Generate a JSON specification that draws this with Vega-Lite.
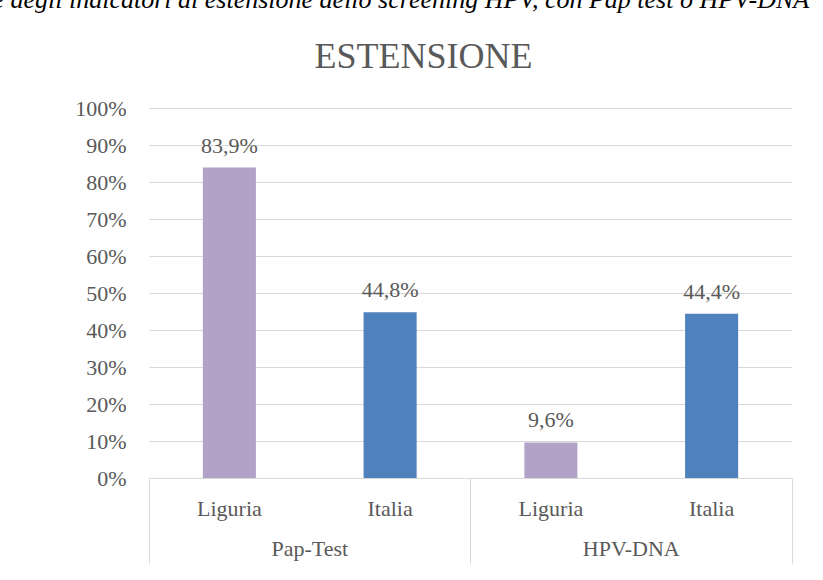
{
  "$schema": "https://vega.github.io/schema/vega-lite/v6.json",
  "autosize": "none",
  "width": 643,
  "height": 370,
  "padding": {"left": 149, "top": 108, "right": 31, "bottom": 102},
  "background": "white",
  "config": {
    "locale": {"number": {"decimal": ",", "thousands": ".", "grouping": [3], "currency": ["€", ""]}},
    "view": {"stroke": null},
    "font": "Liberation Serif, Times New Roman, serif"
  },
  "title": {
    "text": "ESTENSIONE",
    "fontSize": 36,
    "font": "Liberation Serif, Times New Roman, serif",
    "fontWeight": "normal",
    "color": "#595959",
    "anchor": "middle",
    "frame": "group",
    "baseline": "alphabetic",
    "dx": -47,
    "dy": 122
  },
  "data": {
    "values": [
      {"key": "Pap-Test|Liguria", "gruppo": "Pap-Test", "regione": "Liguria", "valore": 0.839},
      {"key": "Pap-Test|Italia", "gruppo": "Pap-Test", "regione": "Italia", "valore": 0.448},
      {"key": "HPV-DNA|Liguria", "gruppo": "HPV-DNA", "regione": "Liguria", "valore": 0.096},
      {"key": "HPV-DNA|Italia", "gruppo": "HPV-DNA", "regione": "Italia", "valore": 0.444}
    ]
  },
  "layer": [
    {
      "encoding": {
        "x": {
          "field": "key",
          "type": "nominal",
          "sort": null,
          "scale": {"type": "band", "paddingInner": 0.67, "paddingOuter": 0.335},
          "axis": {
            "title": null,
            "orient": "bottom",
            "labelExpr": "split(datum.value, '|')[1]",
            "labelFont": "Liberation Serif, Times New Roman, serif",
            "labelFontSize": 22,
            "labelColor": "#595959",
            "labelBaseline": "alphabetic",
            "labelPadding": 37,
            "labelAngle": 0,
            "ticks": false,
            "tickSize": 0,
            "domain": false
          }
        },
        "y": {
          "field": "valore",
          "type": "quantitative",
          "scale": {"domain": [0, 1]},
          "axis": {
            "values": [0, 0.1, 0.2, 0.3, 0.4, 0.5, 0.6, 0.7, 0.8, 0.9, 1],
            "tickCount": 20,
            "labelOverlap": false,
            "format": ".0%",
            "grid": true,
            "gridColor": "#d9d9d9",
            "gridWidth": 1,
            "domain": false,
            "ticks": false,
            "tickSize": 0,
            "labelPadding": 23,
            "labelFont": "Liberation Serif, Times New Roman, serif",
            "labelFontSize": 22,
            "labelColor": "#595959",
            "title": "e degli indicatori di estensione dello screening HPV, con Pap test o HPV-DNA",
            "titleAngle": 0,
            "titleAlign": "left",
            "titleBaseline": "alphabetic",
            "titleX": -157,
            "titleY": -101,
            "titleFont": "Liberation Serif, Times New Roman, serif",
            "titleFontStyle": "italic",
            "titleFontWeight": "normal",
            "titleFontSize": 26,
            "titleColor": "#000000"
          }
        }
      },
      "layer": [
        {
          "mark": {"type": "bar"},
          "encoding": {
            "color": {
              "field": "regione",
              "type": "nominal",
              "scale": {"domain": ["Liguria", "Italia"], "range": ["#B3A2C7", "#4F81BD"]},
              "legend": null
            }
          }
        },
        {
          "mark": {"type": "text", "dy": -15, "baseline": "alphabetic", "fontSize": 22, "color": "#595959", "font": "Liberation Serif, Times New Roman, serif"},
          "encoding": {
            "text": {"field": "valore", "type": "quantitative", "format": ".1%"}
          }
        }
      ]
    },
    {
      "mark": {"type": "point", "opacity": 0},
      "encoding": {
        "x": {
          "field": "gruppo",
          "type": "nominal",
          "sort": null,
          "scale": {"type": "band", "paddingInner": 0, "paddingOuter": 0},
          "axis": {
            "title": null,
            "orient": "bottom",
            "labelFont": "Liberation Serif, Times New Roman, serif",
            "labelFontSize": 22,
            "labelColor": "#595959",
            "labelBaseline": "alphabetic",
            "labelPadding": -8,
            "labelAngle": 0,
            "bandPosition": 1,
            "tickExtra": true,
            "tickSize": 85,
            "tickColor": "#d9d9d9",
            "tickWidth": 1,
            "domain": false
          }
        }
      }
    }
  ],
  "resolve": {"scale": {"x": "independent"}, "axis": {"x": "independent"}}
}
